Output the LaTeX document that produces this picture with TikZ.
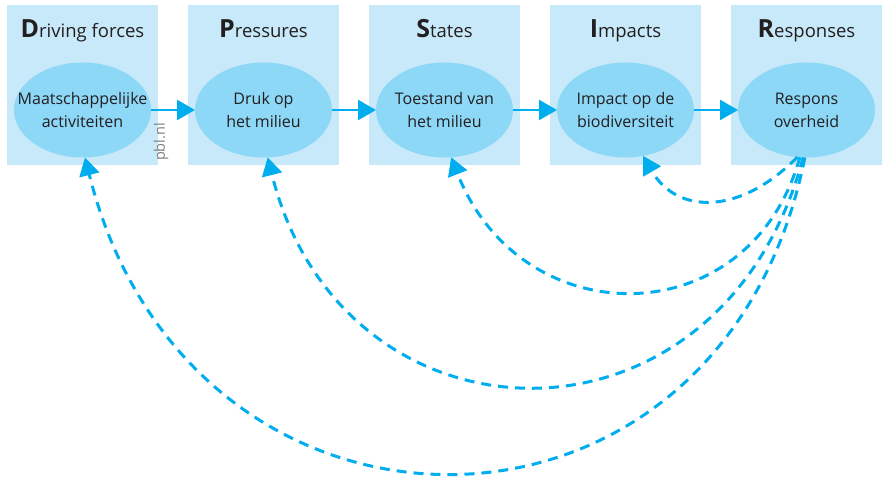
\documentclass[tikz,border=0pt]{standalone}
\usepackage{fontspec}
\setmainfont{Open Sans}
\usetikzlibrary{arrows.meta,shapes.geometric}

\definecolor{boxblue}{HTML}{C7E9F9}
\definecolor{ellblue}{HTML}{8DD7F7}
\definecolor{arrowblue}{HTML}{00AEEF}
\definecolor{inkgray}{HTML}{231F20}

\newcommand{\bigletter}[1]{{\fontsize{25}{25}\selectfont\bfseries #1}}

\tikzset{
	box/.style={fill=boxblue, minimum width=151pt, minimum height=160pt, inner sep=0, outer sep=0},
	ell/.style={ellipse, fill=ellblue, minimum width=137pt, minimum height=95pt, inner sep=0, outer sep=0},
	title/.style={anchor=base, text=inkgray, font=\fontsize{18.5}{20}\selectfont},
	lbl/.style={align=center, text=inkgray, font=\fontsize{16}{23}\selectfont},
	flow/.style={draw=arrowblue, line width=2.6pt, -{Triangle[width=20pt,length=18pt]}},
	back/.style={draw=arrowblue, line width=3pt, dash pattern=on 10pt off 7pt, -{Triangle[width=20pt,length=18pt]}}
}

\begin{document}
\begin{tikzpicture}[x=1pt,y=-1pt]
		\def \hor{ 181 };
		\def \left{ 82.5 };
		\useasboundingbox (0,0) rectangle (882,478);
		% columns
		\node[box] (b0) at (0*\hor+\left,85) {};
		\node[box] (b1) at (1*\hor+\left,85) {};
		\node[box] (b2) at (2*\hor+\left,85) {};
		\node[box] (b3) at (3*\hor+\left,85) {};
		\node[box] (b4) at (4*\hor+\left,85) {};
		\node[title] (t0) at (0*\hor+\left,38) {\bigletter{D}riving forces};
		\node[title] (t1) at (1*\hor+\left,38) {\bigletter{P}ressures};
		\node[title] (t2) at (2*\hor+\left,38) {\bigletter{S}tates};
		\node[title] (t3) at (3*\hor+\left,38) {\bigletter{I}mpacts};
		\node[title] (t4) at (4*\hor+\left,38) {\bigletter{R}esponses};
		% ellipses and their texts
		\node[ell] (e0) at (0*\hor+\left,110) {};
		\node[ell] (e1) at (1*\hor+\left,110) {};
		\node[ell] (e2) at (2*\hor+\left,110) {};
		\node[ell] (e3) at (3*\hor+\left,110) {};
		\node[ell] (e4) at (4*\hor+\left,110) {};
		\node[lbl] (l0) at (e0) {Maatschappelijke\\activiteiten};
		\node[lbl] (l1) at (e1) {Druk op\\het milieu};
		\node[lbl] (l2) at (e2) {Toestand van\\het milieu};
		\node[lbl] (l3) at (e3) {Impact op de\\biodiversiteit};
		\node[lbl] (l4) at (e4) {Respons\\overheid};
		\node[rotate=90, text=gray, font=\fontsize{14.5}{14.5}\selectfont] (pbl) at (161,142) {pbl.nl};
		% chain
		\draw[flow] (e0) -- (e1);
		\draw[flow] (e1) -- (e2);
		\draw[flow] (e2) -- (e3);
		\draw[flow] (e3) -- (e4);
		% feedback
		\draw[back] (e4.-101) .. controls +(-57,58) and +(34,59) .. (e3.-69);
		\draw[back] (e4.-98) .. controls +(-50,179) and +(70,179) .. (e2.-82);
		\draw[back] (e4.-94) .. controls +(-83,310) and +(75,300) .. (e1.-85);
		\draw[back] (e4.-92) .. controls +(-84,420) and +(105,420) .. (e0.-87);
	\end{tikzpicture}
\end{document}
